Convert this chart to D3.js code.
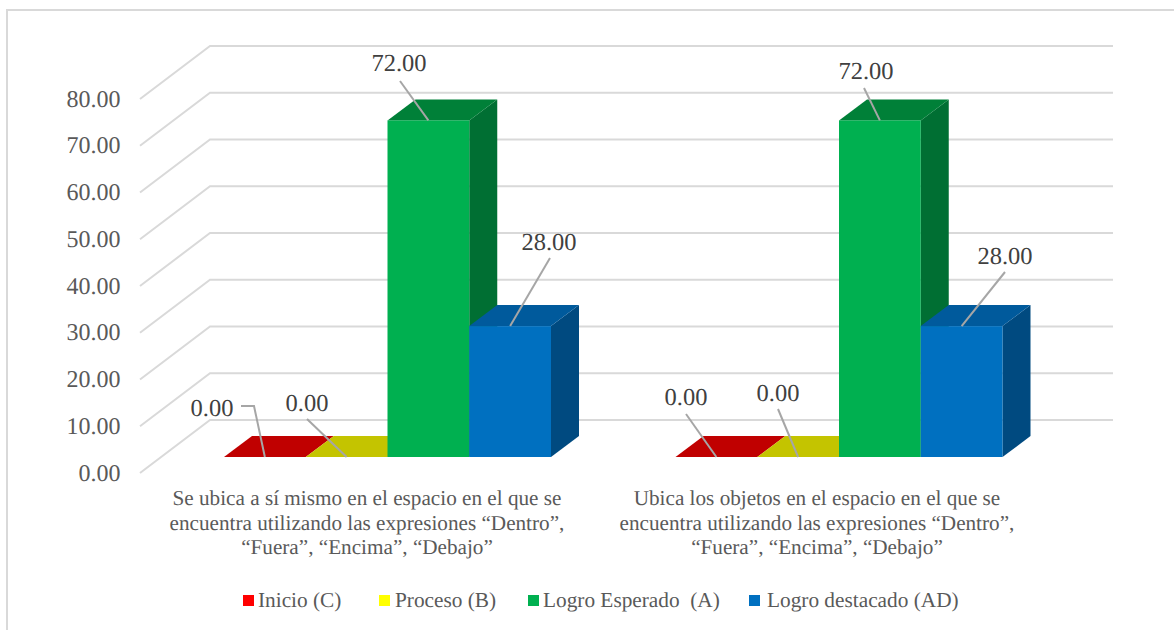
<!DOCTYPE html>
<html><head><meta charset="utf-8">
<script src="https://cdn.jsdelivr.net/npm/d3@7"></script>
<style>html,body{margin:0;padding:0;background:#fff}svg{display:block}text{font-family:"Liberation Serif",serif;text-rendering:geometricPrecision}</style>
</head><body><svg id="c" width="1174" height="630"></svg>
<script>
const categories=["c1","c2"];
const categoryLines=[
 ["Se ubica a sí mismo en el espacio en el que se","encuentra utilizando las expresiones “Dentro”,","“Fuera”, “Encima”, “Debajo”"],
 ["Ubica los objetos en el espacio en el que se","encuentra utilizando las expresiones “Dentro”,","“Fuera”, “Encima”, “Debajo”"]];
const seriesNames=["Inicio (C)","Proceso (B)","Logro Esperado  (A)","Logro destacado (AD)"];
const inicio=[0,0], proceso=[0,0], esperado=[72,72], destacado=[28,28];
const seriesValues=[inicio,proceso,esperado,destacado];
const yTicks=[0,10,20,30,40,50,60,70,80];
const legendColors=["#ff0000","#ffff00","#00b050","#0070c0"];
const frontColors=["#ff0000","#ffff00","#00b050","#0070c0"];
const topColors=["#c00000","#c4c400","#008038","#005a9c"];
const sideColors=["#a00000","#a0a000","#006f33","#004a80"];
// leader-line label layout, per category then series: label anchor and leader start
const labelPos=[
 [{x:212,y:408,lx:241,ly:406,mid:[254,406]},{x:307,y:403,lx:307,ly:419},{x:399,y:63,lx:400,ly:81},{x:549,y:242,lx:550,ly:258}],
 [{x:686,y:397,lx:686,ly:414},{x:778,y:393,lx:778,ly:409},{x:866,y:71,lx:864,ly:88},{x:1005,y:256,lx:1005,ly:272}]];

const svg=d3.select("#c");
svg.append("rect").attr("x",7).attr("y",10).attr("width",1200).attr("height",660).attr("fill","#fff").attr("stroke","#d9d9d9").attr("stroke-width",2);

const y=d3.scaleLinear().domain([0,80]).range([420,46]);
const floorDX=70, floorDY=53, barDX=28, barDY=21;
const gridRight=1113, backLeft=210;
const g=svg.append("g");
yTicks.forEach(t=>{
 g.append("path").attr("fill","none").attr("stroke","#d9d9d9").attr("stroke-width",2)
  .attr("d",d3.line()([[backLeft-floorDX,y(t)+floorDY],[backLeft,y(t)],[gridRight,y(t)]]));
 g.append("text").attr("x",120.5).attr("y",y(t)+floorDY+7.5).attr("text-anchor","end").attr("font-size",24).attr("fill","#595959").text(t.toFixed(2));
});
const xOuter=d3.scaleOrdinal().domain(categories).range([224,675.5]);
const barW=81.75;
const x1=d3.scaleBand().domain(d3.range(4)).range([0,barW*4]);
const baseY=457;
const hgt=v=>y(0)-y(v);
const bars=svg.append("g");
categories.forEach((c,ci)=>{
 seriesValues.forEach((vals,si)=>{
  const v=vals[ci], xl=xOuter(c)+x1(si), xr=xl+x1.bandwidth(), yt=baseY-hgt(v);
  bars.append("path").attr("fill",sideColors[si]).attr("d",d3.line()([[xr,baseY],[xr+barDX,baseY-barDY],[xr+barDX,yt-barDY],[xr,yt]])+"Z");
  bars.append("path").attr("fill",topColors[si]).attr("d",d3.line()([[xl,yt],[xl+barDX,yt-barDY],[xr+barDX,yt-barDY],[xr,yt]])+"Z");
  if(v>0) bars.append("rect").attr("x",xl).attr("y",yt).attr("width",xr-xl).attr("height",baseY-yt).attr("fill",frontColors[si]);
 });
});
const labels=svg.append("g");
categories.forEach((c,ci)=>{
 seriesValues.forEach((vals,si)=>{
  const v=vals[ci], xl=xOuter(c)+x1(si), yt=baseY-hgt(v), p=labelPos[ci][si];
  const pts=[[p.lx,p.ly]]; if(p.mid) pts.push(p.mid); pts.push([xl+x1.bandwidth()/2,yt]);
  labels.append("path").attr("fill","none").attr("stroke","#a6a6a6").attr("stroke-width",2).attr("d",d3.line()(pts));
  labels.append("text").attr("x",p.x).attr("y",p.y+8).attr("text-anchor","middle").attr("font-size",24.5).attr("fill","#404040").text(v.toFixed(2));
 });
});
const catCenter=[367,817];
categories.forEach((c,ci)=>{
 categoryLines[ci].forEach((l,i)=>{
  svg.append("text").attr("x",catCenter[ci]).attr("y",505+i*24.5).attr("text-anchor","middle").attr("font-size",21.2).attr("fill","#595959").text(l);
 });
});
const legX=[243,379,528,749], legT=[258,395,543,767];
seriesNames.forEach((n,i)=>{
 svg.append("rect").attr("x",legX[i]).attr("y",595).attr("width",11).attr("height",11).attr("fill",legendColors[i]);
 svg.append("text").attr("x",legT[i]).attr("y",607).attr("font-size",21.3).attr("fill","#595959").style("white-space","pre").text(n);
});
</script></body></html>
